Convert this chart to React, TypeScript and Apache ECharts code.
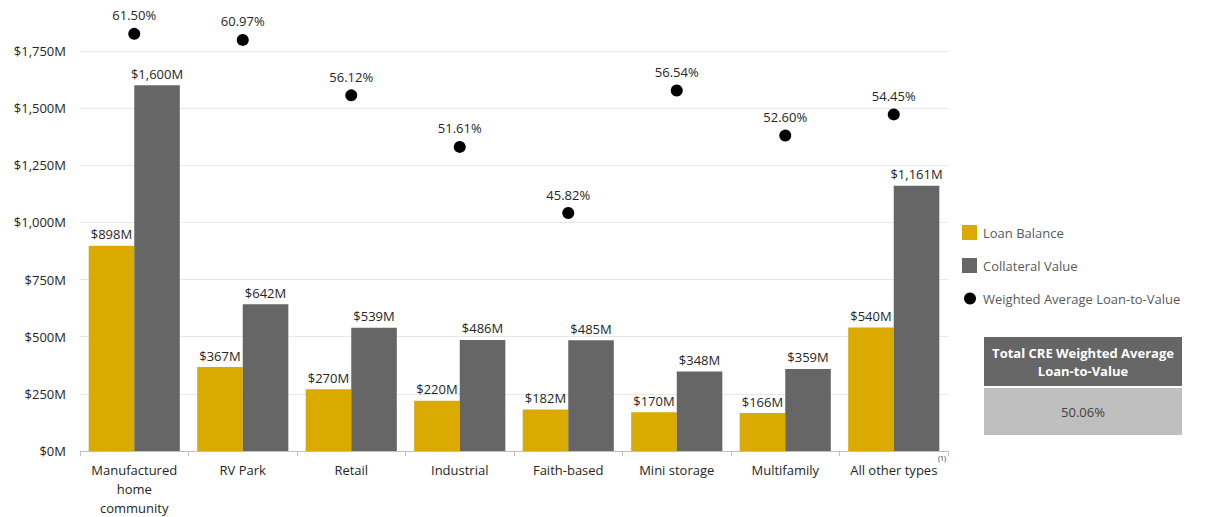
import React, { useEffect, useRef } from "react";
import * as echarts from "echarts";

const categories = [
  "Manufactured\nhome\ncommunity",
  "RV Park",
  "Retail",
  "Industrial",
  "Faith-based",
  "Mini storage",
  "Multifamily",
  "All other types",
];
const loanBalance = [898, 367, 270, 220, 182, 170, 166, 540];
const collateralValue = [1600, 642, 539, 486, 485, 348, 359, 1161];
const weightedLtv = [61.5, 60.97, 56.12, 51.61, 45.82, 56.54, 52.6, 54.45];
const totalLtvLabel = "50.06%";

const FONT = "'Open Sans', sans-serif";
const GOLD = "#DAAA00";
const GRAY = "#666666";

const money = (v: number) => "$" + Math.round(v).toLocaleString("en-US") + "M";

export default function App() {
  const ref = useRef<HTMLDivElement>(null);
  useEffect(() => {
    document.body.style.margin = "0";
    const chart = echarts.init(ref.current!, null, { renderer: "svg" });
    chart.setOption({
      animation: false,
      backgroundColor: "#ffffff",
      textStyle: { fontFamily: FONT },
      grid: { left: 80, right: 261, top: 51, bottom: 65, containLabel: false },
      legend: [
        {
          orient: "vertical",
          left: 957,
          top: 220,
          itemWidth: 15,
          itemHeight: 15,
          itemGap: 18,
          icon: "rect",
          data: ["Loan Balance", "Collateral Value"],
          textStyle: { fontFamily: FONT, fontSize: 13, color: "#595959", lineHeight: 15, padding: [0, 0, 0, 1] },
        },
        {
          orient: "vertical",
          left: 959,
          top: 287,
          itemWidth: 12,
          itemHeight: 12,
          icon: "circle",
          data: ["Weighted Average Loan-to-Value"],
          textStyle: { fontFamily: FONT, fontSize: 13, color: "#595959", padding: [0, 0, 0, 2] },
        },
      ],
      xAxis: {
        type: "category",
        data: categories,
        axisLine: { show: true, lineStyle: { color: "#bfbfbf", width: 1 } },
        axisTick: { show: true, alignWithLabel: false, length: 5, lineStyle: { color: "#bfbfbf" } },
        axisLabel: {
          fontFamily: FONT,
          fontSize: 13,
          color: "#262626",
          margin: 9,
          lineHeight: 19,
          interval: 0,
        },
      },
      yAxis: [
        {
          type: "value",
          min: 0,
          max: 1750,
          interval: 250,
          axisLine: { show: false },
          axisTick: { show: false },
          splitLine: { lineStyle: { color: "#e8e8e8", width: 1 } },
          axisLabel: {
            fontFamily: FONT,
            fontSize: 13,
            color: "#262626",
            margin: 14,
            formatter: (v: number) => money(v),
          },
        },
        {
          type: "value",
          min: 25,
          max: 60,
          interval: 5,
          show: false,
          splitLine: { show: false },
        },
      ],
      series: [
        {
          name: "Loan Balance",
          type: "bar",
          data: loanBalance,
          barGap: "0%",
          barCategoryGap: "16%",
          itemStyle: { color: GOLD },
          label: {
            show: true,
            position: "top",
            distance: 5,
            fontFamily: FONT,
            fontSize: 13,
            color: "#262626",
            formatter: (p: any) => money(p.value),
          },
        },
        {
          name: "Collateral Value",
          type: "bar",
          data: collateralValue,
          barGap: "0%",
          barCategoryGap: "16%",
          itemStyle: { color: GRAY },
          label: {
            show: true,
            position: "top",
            distance: 5,
            fontFamily: FONT,
            fontSize: 13,
            color: "#262626",
            formatter: (p: any) => money(p.value),
          },
        },
        {
          name: "Weighted Average Loan-to-Value",
          type: "scatter",
          yAxisIndex: 1,
          data: weightedLtv,
          symbol: "circle",
          symbolSize: 12,
          clip: false,
          itemStyle: { color: "#000000", opacity: 1 },
          label: {
            show: true,
            position: "top",
            distance: 6,
            fontFamily: FONT,
            fontSize: 13,
            color: "#262626",
            formatter: (p: any) => Number(p.value).toFixed(2) + "%",
          },
        },
      ],
      graphic: [
        {
          type: "text",
          left: 938,
          top: 455,
          style: { text: "(1)", fontFamily: FONT, fontSize: 7, fill: "#262626" },
        },
        {
          type: "rect",
          shape: { x: 984, y: 337, width: 198, height: 49 },
          style: { fill: "#666666" },
        },
        {
          type: "text",
          x: 1083,
          y: 361.5,
          style: {
            text: "Total CRE Weighted Average\nLoan-to-Value",
            fontFamily: FONT,
            fontSize: 13,
            fontWeight: "bold",
            fill: "#ffffff",
            align: "center",
            verticalAlign: "middle",
            lineHeight: 18,
          },
        },
        {
          type: "rect",
          shape: { x: 984, y: 388, width: 198, height: 47 },
          style: { fill: "#bfbfbf" },
        },
        {
          type: "text",
          x: 1083,
          y: 411.5,
          style: {
            text: totalLtvLabel,
            fontFamily: FONT,
            fontSize: 13,
            fill: "#404040",
            align: "center",
            verticalAlign: "middle",
          },
        },
      ],
    });
    return () => chart.dispose();
  }, []);
  return <div ref={ref} style={{ position: "absolute", left: 0, top: 0, width: 1209, height: 517 }} />;
}
